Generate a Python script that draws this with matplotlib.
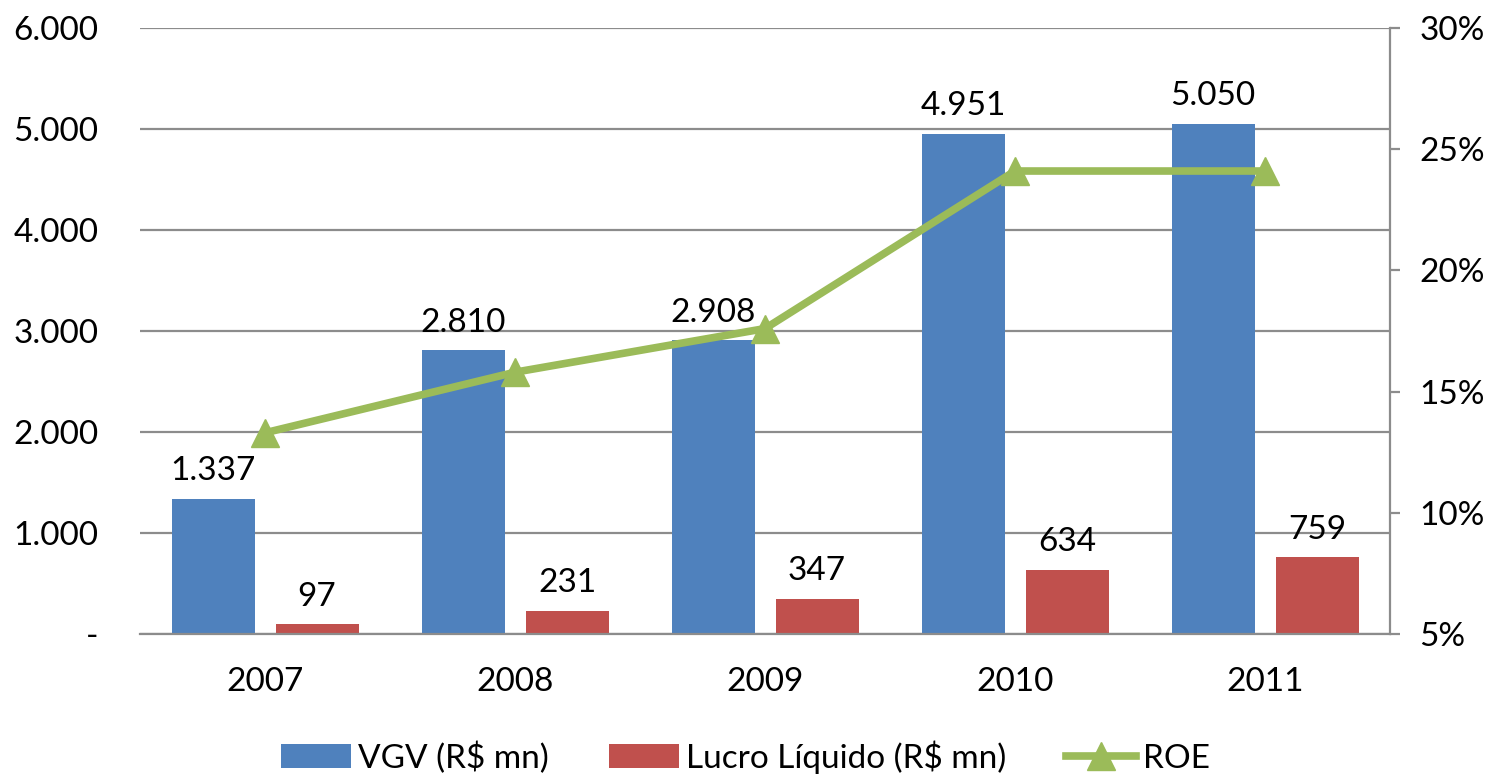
import numpy as np
import matplotlib.pyplot as plt
from matplotlib.ticker import FuncFormatter

# data
years = ["2007", "2008", "2009", "2010", "2011"]
vgv = [1337, 2810, 2908, 4951, 5050]
lucro = [97, 231, 347, 634, 759]
roe = [13.3, 15.8, 17.6, 24.1, 24.1]

blue = "#4F81BD"
red = "#C0504D"
green = "#9BBB59"
grid = "#8C8C8C"

plt.rcParams['font.family'] = ['Lato', 'DejaVu Sans']
fs = 24

def br(v):
    return f"{v:,.0f}".replace(",", ".")

fig = plt.figure(figsize=(14.91, 7.76), dpi=100)
ax = fig.add_axes([140/1491, 1-634/776, 1250/1491, 606/776])

x = np.arange(len(years))
w = 0.332
off = 0.208
b1 = ax.bar(x - off, vgv, w, color=blue, label="VGV (R$ mn)", zorder=2)
b2 = ax.bar(x + off, lucro, w, color=red, label="Lucro Líquido (R$ mn)", zorder=2)

for xi, v in zip(x, vgv):
    ax.annotate(br(v), (xi - off, v), xytext=(0, 9), textcoords="offset points",
                ha="center", va="bottom", fontsize=fs)
for xi, v in zip(x, lucro):
    ax.annotate(br(v), (xi + off, v), xytext=(0, 9), textcoords="offset points",
                ha="center", va="bottom", fontsize=fs)

ax.set_xlim(-0.5, 4.5)
ax.set_ylim(0, 6000)
ax.set_yticks(np.arange(0, 6001, 1000))
ax.yaxis.set_major_formatter(FuncFormatter(lambda v, p: "-" if v == 0 else br(v)))
ax.set_xticks(x)
ax.set_xticklabels(years)
ax.tick_params(axis="both", length=0, labelsize=fs)
ax.tick_params(axis="y", pad=30)
ax.tick_params(axis="x", pad=24)
ax.yaxis.grid(True, color=grid, linewidth=1.6, zorder=0)
ax.set_axisbelow(True)
for s in ["top", "left", "right"]:
    ax.spines[s].set_visible(False)
ax.spines["bottom"].set_color(grid)
ax.spines["bottom"].set_linewidth(1.6)

ax2 = ax.twinx()
ln, = ax2.plot(x, roe, color=green, linewidth=5.5, marker="^", markersize=20,
               label="ROE", zorder=3)
ax2.set_ylim(5, 30)
ax2.set_yticks(np.arange(5, 31, 5))
ax2.yaxis.set_major_formatter(FuncFormatter(lambda v, p: f"{v:.0f}%"))
ax2.tick_params(axis="y", length=7, width=1.6, color=grid, labelsize=fs, pad=14)
for s in ["top", "left", "bottom"]:
    ax2.spines[s].set_visible(False)
ax2.spines["right"].set_color(grid)
ax2.spines["right"].set_linewidth(1.6)

fig.legend(handles=[b1, b2, ln], loc="center", bbox_to_anchor=(0.5, 1-757/776),
           ncol=3, frameon=False, fontsize=fs, handlelength=2.1, handleheight=0.75,
           columnspacing=1.8, handletextpad=0.2)

fig.savefig("out.png", dpi=100)
